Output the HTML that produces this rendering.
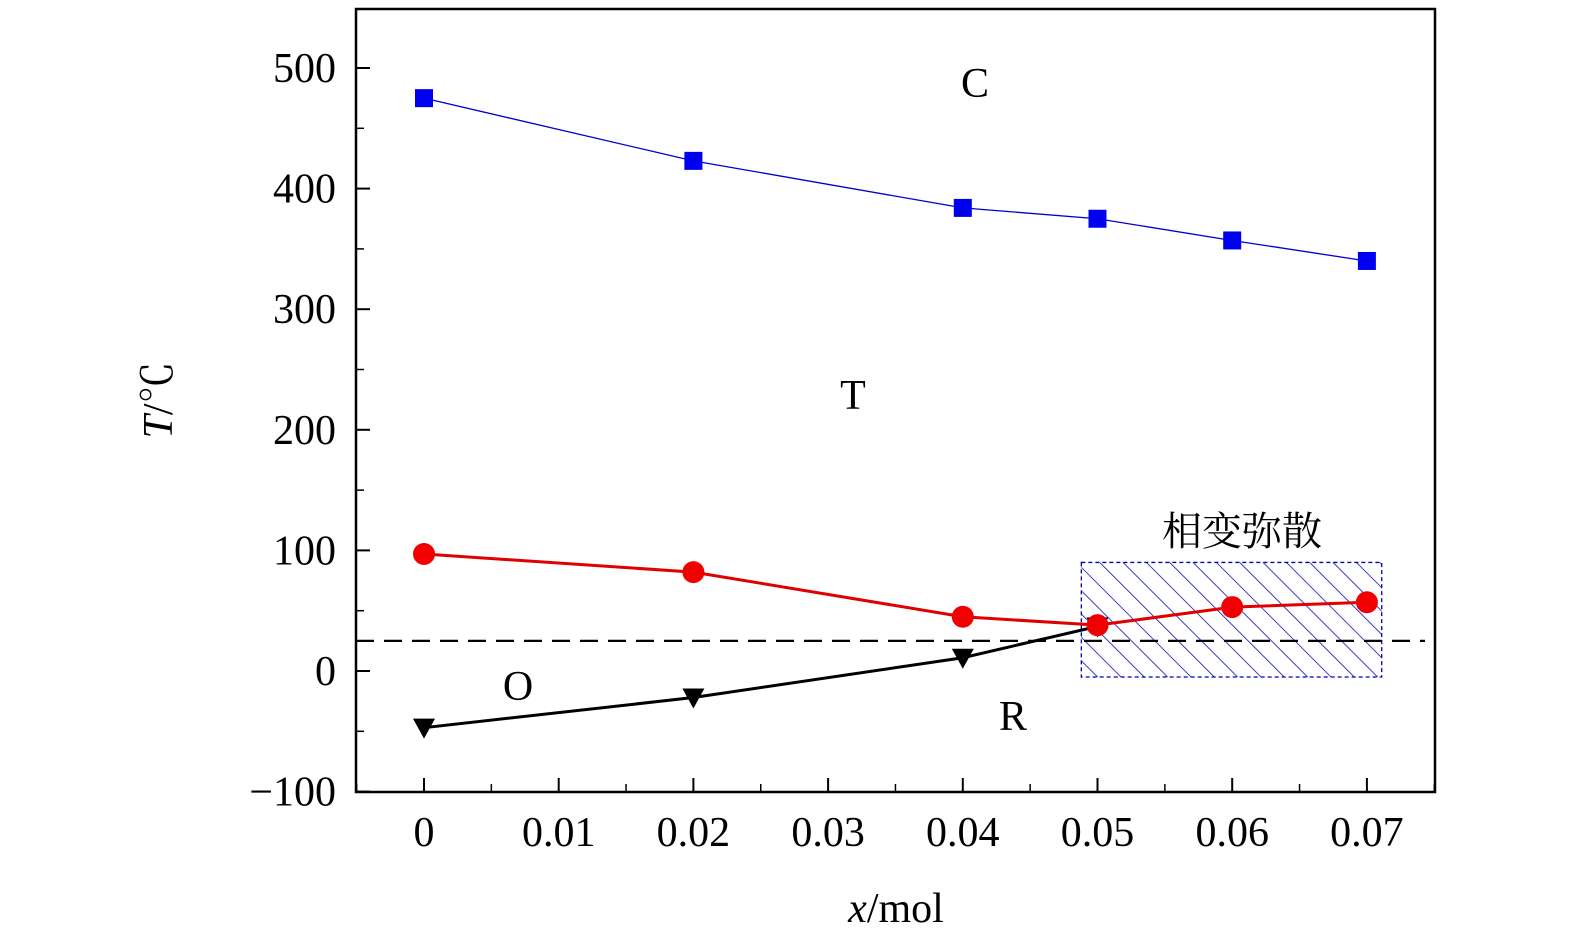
<!DOCTYPE html>
<html><head><meta charset="utf-8"><style>
body{margin:0;background:#fff;}
svg{display:block;}
text{font-family:"Liberation Serif","Noto Serif CJK SC",serif;}
</style></head><body>
<svg id="chart" width="1575" height="945" xmlns="http://www.w3.org/2000/svg">
<defs>
<pattern id="hatch" patternUnits="userSpaceOnUse" width="16.5" height="16.5" patternTransform="rotate(-45)">
<line x1="0" y1="0" x2="0" y2="16.5" stroke="#0000b0" stroke-width="1.5"/>
</pattern>
</defs>
<g id="plot"></g>
</svg>
<script>
const xCats=[0,0.02,0.04,0.05,0.06,0.07];
const cTemps=[475,423,384,375,357,340];
const tTemps=[97,82,45,38,53,57];
const oX=[0,0.02,0.04,0.05];
const oTemps=[-47,-22,11,37];
const xTicks=[0,0.01,0.02,0.03,0.04,0.05,0.06,0.07];
const xTickLabels=["0","0.01","0.02","0.03","0.04","0.05","0.06","0.07"];
const yTicks=[-100,0,100,200,300,400,500];
const yTickLabels=["\u2212100","0","100","200","300","400","500"];
const roomTemp=25;
const diffuseX=[0.0488,0.0711];
const diffuseY=[-5,90];

const L=356,R=1435,T=9,B=792;
const X=v=>424+v*13470;
const Y=v=>671-v*1.206;
const svg=document.getElementById('plot');
const NS='http://www.w3.org/2000/svg';
function mk(tag,attrs,parent){const e=document.createElementNS(NS,tag);for(const k in attrs)e.setAttribute(k,attrs[k]);(parent||svg).appendChild(e);return e;}

const hr=mk('rect',{x:X(diffuseX[0]),y:Y(diffuseY[1]),width:X(diffuseX[1])-X(diffuseX[0]),height:Y(diffuseY[0])-Y(diffuseY[1]),fill:'url(#hatch)',stroke:'#0000b0','stroke-width':1.3,'stroke-dasharray':'4 3'});



const dl=mk('line',{x1:L,x2:R-10,y1:Y(roomTemp),y2:Y(roomTemp),stroke:'#000','stroke-width':2.2,'stroke-dasharray':'18 10'});



function series(xs,ys,color,w,name){
  const p=mk('polyline',{points:xs.map((x,i)=>X(x)+','+Y(ys[i])).join(' '),fill:'none',stroke:color,'stroke-width':w});
  
  
}
series(oX,oTemps,'#000',3,'o-r-boundary');
oX.forEach((x,i)=>{const cx=X(x),cy=Y(oTemps[i]);
  const m=mk('polygon',{points:`${cx-11},${cy-9} ${cx+11},${cy-9} ${cx},${cy+11}`,fill:'#000'});
  
  });
series(xCats,tTemps,'#e00000',3,'t-o-boundary');
xCats.forEach((x,i)=>{const m=mk('circle',{cx:X(x),cy:Y(tTemps[i]),r:11,fill:'#f00000'});
  
  });
series(xCats,cTemps,'#0000cc',1.3,'curie-boundary');
xCats.forEach((x,i)=>{const m=mk('rect',{x:X(x)-9,y:Y(cTemps[i])-9,width:18,height:18,fill:'#0000f0'});
  
  });

const fr=mk('rect',{x:L,y:T,width:R-L,height:B-T,fill:'none',stroke:'#000','stroke-width':2.5});



xTicks.forEach((v,i)=>{const x=X(v);
  mk('line',{x1:x,x2:x,y1:B,y2:B-14,stroke:'#000','stroke-width':2});
  const xm=X(v+0.005); if(xm<R) mk('line',{x1:xm,x2:xm,y1:B,y2:B-8,stroke:'#000','stroke-width':1.5});
  const t=mk('text',{x:x,y:846,'text-anchor':'middle','font-size':42});t.textContent=xTickLabels[i];
  
  });
mk('line',{x1:X(-0.005),x2:X(-0.005),y1:B,y2:B-8,stroke:'#000','stroke-width':1.5});
yTicks.forEach((v,i)=>{const y=Y(v);
  mk('line',{x1:L,x2:L+14,y1:y,y2:y,stroke:'#000','stroke-width':2});
  const ym=Y(v+50); if(ym>T) mk('line',{x1:L,x2:L+8,y1:ym,y2:ym,stroke:'#000','stroke-width':1.5});
  const t=mk('text',{x:336,y:y+14,'text-anchor':'end','font-size':42});t.textContent=yTickLabels[i];
  
  });

function label(txt,x,y,size,name,extra){const t=mk('text',Object.assign({x:x,y:y,'text-anchor':'middle','font-size':size},extra||{}));t.innerHTML=txt;
  
  return t;}
label('<tspan font-style="italic">x</tspan>/mol',896,922,42,'x-axis-title');
label('<tspan font-style="italic">T</tspan>/℃',0,0,42,'y-axis-title',{transform:'translate(172,400) rotate(-90)'});
label('C',975,97,42,'region-c-label');
label('T',853,409,42,'region-t-label');
label('O',518,700,42,'region-o-label');
label('R',1013,730,42,'region-r-label');
label('相变弥散',1242,545,40,'diffuse-label',{style:'font-family:"Noto Serif CJK SC",serif'});
</script>
</body></html>
